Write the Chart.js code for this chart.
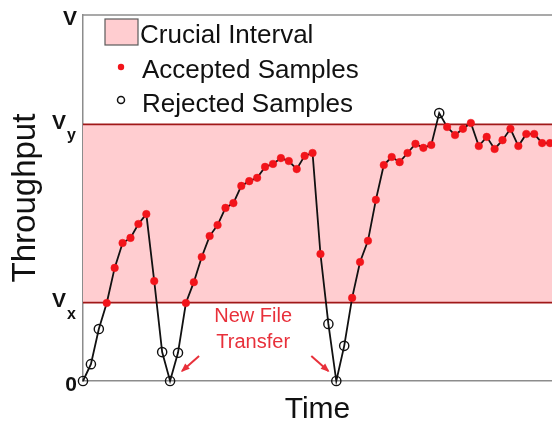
<!DOCTYPE html>
<html>
<head>
<meta charset="utf-8">
<script src="https://cdn.jsdelivr.net/npm/chart.js@4"></script>
<style>
  html, body { margin: 0; padding: 0; background: #fff; }
  #wrap { width: 552px; height: 425px; }
</style>
</head>
<body>
<div id="wrap"><canvas id="c" width="552" height="425"></canvas></div>
<script>
// ---- Data ----
const sampleTime = [0,1,2,3,4,5,6,7,8,9,10,11,12,13,14,15,16,17,18,19,20,21,22,23,24,25,26,27,28,29,
                    30,31,32,33,34,35,36,37,38,39,40,41,42,43,44,45,46,47,48,49,50,51,52,53,54,55,56,57,58,59];
const throughput = [0, 4.6, 14.2, 21.3, 30.9, 37.7, 39.1, 42.9, 45.6, 27.3,
                    7.9, 0, 7.7, 21.3, 27.0, 33.9, 39.6, 42.6, 47.3, 48.6,
                    53.3, 54.6, 55.5, 58.5, 59.3, 60.9, 60.1, 57.9, 61.5, 62.3,
                    34.7, 15.6, 0, 9.6, 22.7, 32.5, 38.3, 49.5, 59.0, 61.2,
                    59.8, 62.3, 64.8, 63.7, 64.5, 73.2, 69.4, 67.2, 68.9, 70.5,
                    64.2, 66.7, 63.4, 65.8, 68.9, 64.2, 67.5, 67.5, 65.0, 65.0];
const rejectedSamples = [0, 1, 2, 10, 11, 12, 31, 32, 33, 45];
const newTransferSamples = [11, 32];

const V_MAX = 100;   // "V"
const V_Y = 70.1;    // upper bound of crucial interval
const V_X = 21.4;    // lower bound of crucial interval
const T_MIN = 0, T_MAX = 59.25;

const tickValues = [0, V_X, V_Y, V_MAX];
const tickMain   = ['0', 'V', 'V', 'V'];
const tickSub    = ['', 'x', 'y', ''];

const legendLabels = ['Crucial Interval', 'Accepted Samples', 'Rejected Samples'];
const annotationLines = ['New File', 'Transfer'];
const axisTitles = { x: 'Time', y: 'Throughput' };

// ---- Styling ----
const FONT = '"Liberation Sans", Arial, Helvetica, sans-serif';
const PINK = '#ffcdd0';
const BAND_LINE = '#a01818';
const RED = '#f2141a';
const TEXT_RED = '#e8303a';
const AXIS_GREY = '#8c8c8c';

const points = sampleTime.map((t, i) => ({ x: t, y: throughput[i] }));
const isRejected = i => rejectedSamples.includes(i);

const overlay = {
  id: 'overlay',
  afterDraw(chart) {
    const { ctx, chartArea: a, scales: { x, y } } = chart;
    ctx.save();
    // top frame line
    ctx.strokeStyle = AXIS_GREY; ctx.lineWidth = 1.5;
    const yt = y.getPixelForValue(V_MAX);
    ctx.beginPath(); ctx.moveTo(a.left, yt); ctx.lineTo(a.right, yt); ctx.stroke();

    // tick labels (with subscripts)
    ctx.fillStyle = '#111';
    ctx.textBaseline = 'alphabetic';
    tickValues.forEach((v, k) => {
      const py = y.getPixelForValue(v);
      if (tickSub[k]) {
        ctx.font = 'bold 16px ' + FONT; ctx.textAlign = 'right';
        ctx.fillText(tickSub[k], a.left - 7, py + 16);
        const w = ctx.measureText(tickSub[k]).width;
        ctx.font = 'bold 21px ' + FONT;
        ctx.fillText(tickMain[k], a.left - 7 - w - 1, py + 4.5);
      } else {
        ctx.font = 'bold 21px ' + FONT; ctx.textAlign = 'right';
        ctx.fillText(tickMain[k], a.left - 6, py + (v === 0 ? 9.5 : 10));
      }
    });

    // legend
    ctx.textAlign = 'left';
    ctx.font = '26px ' + FONT;
    ctx.fillStyle = PINK; ctx.fillRect(105, 19, 33, 26);
    ctx.strokeStyle = '#5a5a5a'; ctx.lineWidth = 1.2; ctx.strokeRect(105, 19, 33, 26);
    ctx.fillStyle = '#111';
    ctx.fillText(legendLabels[0], 140, 43);
    ctx.fillStyle = RED;
    ctx.beginPath(); ctx.arc(121, 67, 3.2, 0, Math.PI * 2); ctx.fill();
    ctx.fillStyle = '#111';
    ctx.fillText(legendLabels[1], 142, 78);
    ctx.strokeStyle = '#111'; ctx.lineWidth = 1.5;
    ctx.beginPath(); ctx.arc(121, 100, 3.5, 0, Math.PI * 2); ctx.stroke();
    ctx.fillText(legendLabels[2], 142, 112);

    // "New File Transfer" annotation
    const p1 = { x: x.getPixelForValue(newTransferSamples[0]), y: y.getPixelForValue(0) };
    const p2 = { x: x.getPixelForValue(newTransferSamples[1]), y: y.getPixelForValue(0) };
    const cx = (p1.x + p2.x) / 2;
    ctx.fillStyle = TEXT_RED; ctx.textAlign = 'center';
    ctx.font = '20px ' + FONT;
    ctx.fillText(annotationLines[0], cx, 322);
    ctx.fillText(annotationLines[1], cx, 348);

    const arrow = (x0, y0, x1, y1) => {
      ctx.strokeStyle = TEXT_RED; ctx.fillStyle = TEXT_RED; ctx.lineWidth = 2;
      ctx.beginPath(); ctx.moveTo(x0, y0); ctx.lineTo(x1, y1); ctx.stroke();
      const ang = Math.atan2(y1 - y0, x1 - x0), L = 8, W = 0.45;
      ctx.beginPath();
      ctx.moveTo(x1 + 1.5 * Math.cos(ang), y1 + 1.5 * Math.sin(ang));
      ctx.lineTo(x1 - L * Math.cos(ang - W), y1 - L * Math.sin(ang - W));
      ctx.lineTo(x1 - L * Math.cos(ang + W), y1 - L * Math.sin(ang + W));
      ctx.closePath(); ctx.fill();
    };
    arrow(p1.x + 29, p1.y - 25, p1.x + 12, p1.y - 10);
    arrow(p2.x - 25, p2.y - 25, p2.x - 8, p2.y - 10);
    ctx.restore();
  }
};

new Chart(document.getElementById('c'), {
  type: 'line',
  data: {
    datasets: [
      {
        label: 'Samples',
        data: points,
        order: 0,
        borderColor: '#111',
        borderWidth: 1.8,
        tension: 0,
        fill: false,
        clip: false,
        pointRadius: ctx => isRejected(ctx.dataIndex) ? 4.6 : 3.8,
        pointBackgroundColor: ctx => isRejected(ctx.dataIndex) ? 'rgba(0,0,0,0)' : RED,
        pointBorderColor: ctx => isRejected(ctx.dataIndex) ? '#111' : RED,
        pointBorderWidth: ctx => isRejected(ctx.dataIndex) ? 1.4 : 0.5,
      },
      {
        label: 'Vy',
        data: [{ x: T_MIN, y: V_Y }, { x: T_MAX, y: V_Y }],
        order: 5,
        borderColor: BAND_LINE, borderWidth: 1.8,
        pointRadius: 0, fill: false,
      },
      {
        label: 'Vx',
        data: [{ x: T_MIN, y: V_X }, { x: T_MAX, y: V_X }],
        order: 4,
        borderColor: BAND_LINE, borderWidth: 1.8,
        backgroundColor: PINK,
        pointRadius: 0, fill: '-1',
      }
    ]
  },
  options: {
    responsive: false,
    devicePixelRatio: 1,
    animation: false,
    events: [],
    layout: { autoPadding: false, padding: { top: 15, right: 0, left: 0, bottom: 0 } },
    plugins: {
      legend: { display: false }, tooltip: { enabled: false },
      filler: { drawTime: 'beforeDatasetsDraw' }
    },
    scales: {
      x: {
        type: 'linear', min: T_MIN, max: T_MAX,
        grid: { display: false },
        border: { display: true, color: AXIS_GREY, width: 1.5 },
        ticks: { display: false },
        title: { display: true, text: axisTitles.x, color: '#111',
                 font: { family: FONT, size: 30, lineHeight: 1 }, padding: 0 },
        afterFit(s) { s.height = 44; }
      },
      y: {
        type: 'linear', min: 0, max: V_MAX,
        grid: { display: false },
        border: { display: true, color: AXIS_GREY, width: 1.5 },
        ticks: { display: false },
        title: { display: true, text: axisTitles.y, color: '#111',
                 font: { family: FONT, size: 33, lineHeight: 1.2 }, padding: { top: 6, bottom: 0 } },
        afterFit(s) { s.width = 83; }
      }
    }
  },
  plugins: [overlay]
});
</script>
</body>
</html>
